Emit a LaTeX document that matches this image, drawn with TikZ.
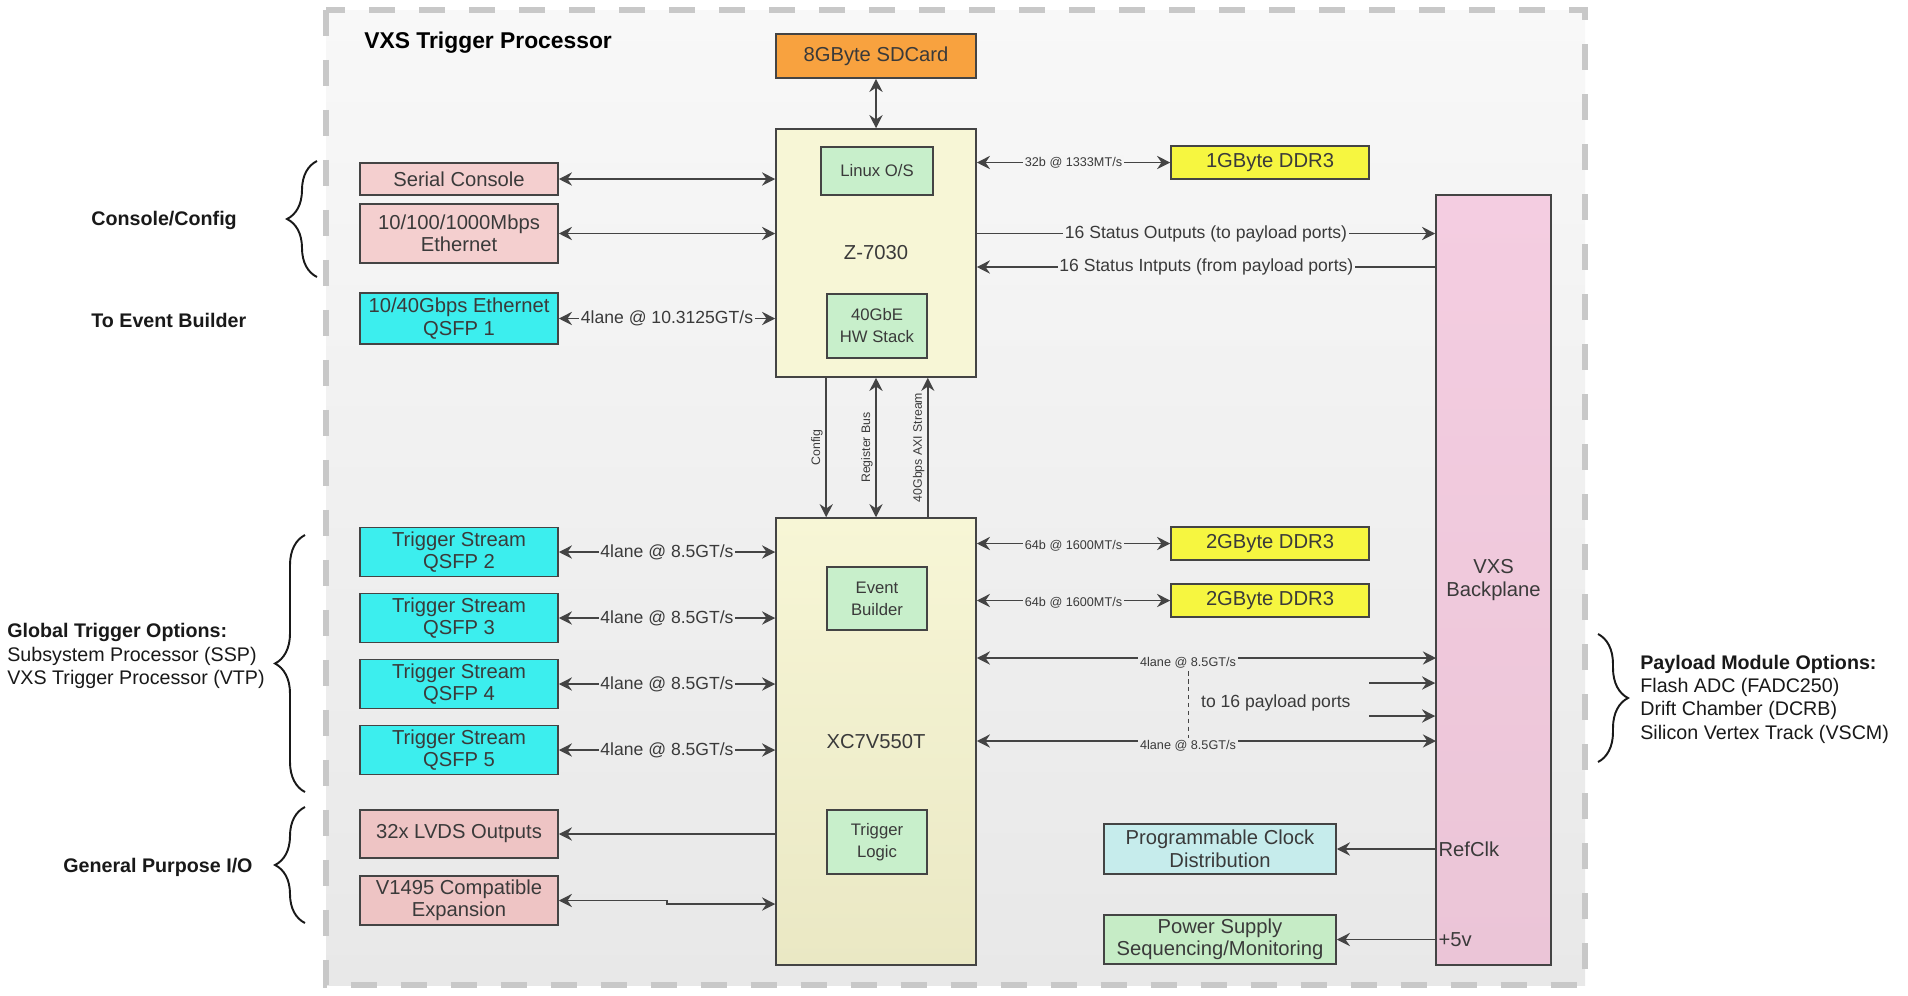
\documentclass[tikz,border=0pt]{standalone}
\usepackage{fontspec}
\setmainfont{Liberation Sans}
\usetikzlibrary{arrows.meta,decorations.pathreplacing}

\definecolor{bgtop}{HTML}{F8F8F8}
\definecolor{bgbot}{HTML}{E8E8E8}
\definecolor{frameline}{HTML}{C8C8C8}
\definecolor{edgegray}{HTML}{444444}
\definecolor{txtgray}{HTML}{3A3A3A}
\definecolor{sdorange}{HTML}{F8A23F}
\definecolor{chipyel}{HTML}{F7F6D6}
\definecolor{chipyelB}{HTML}{EAE8C4}
\definecolor{subgreen}{HTML}{C8EFCB}
\definecolor{ifpink}{HTML}{F4CFCF}
\definecolor{iopink}{HTML}{EEC4C4}
\definecolor{qsfpcyan}{HTML}{3CEEEE}
\definecolor{ddryel}{HTML}{F6F640}
\definecolor{bppink}{HTML}{F4CDE1}
\definecolor{bppinkB}{HTML}{EBC5D7}
\definecolor{clkcyan}{HTML}{C6ECEC}
\definecolor{pwrgreen}{HTML}{C6ECC6}

\begin{document}
\begin{tikzpicture}[x=0.02cm, y=-0.02cm, >={Stealth[length=7.5pt,width=7.5pt,inset=2.5pt]}]
        \tikzset{blk/.style={draw=edgegray, line width=0.9pt, text=txtgray, align=center, inner sep=1pt, font=\fontsize{11.5}{12.8}\selectfont}}
        \tikzset{sub/.style={blk, fill=subgreen, minimum width=2cm, font=\fontsize{9.5}{12.5}\selectfont}}
        \tikzset{ifbox/.style={blk, minimum width=3.96cm}}
        \tikzset{link/.style={draw=edgegray, line width=0.9pt}}
        \tikzset{lbl/.style={text=txtgray, inner sep=1pt, fill=bgbot!#1!bgtop, font=\fontsize{10}{11}\selectfont}}
        \tikzset{smalllbl/.style={lbl=#1, font=\fontsize{7.2}{7.5}\selectfont}}
        \tikzset{rotlbl/.style={text=txtgray, inner sep=1.5pt, rotate=90, anchor=south, font=\fontsize{7}{7.5}\selectfont}}
        \tikzset{sidetext/.style={text=black!90, inner sep=0pt, align=left, font=\fontsize{11.2}{13.3}\selectfont}}
        \tikzset{brc/.style={draw=black!90, line width=1.1pt, decorate, decoration={brace, amplitude=0.6cm}}}
        \fill[white] (0,0) rectangle (1908,995);
        % board outline
        \fill[top color=bgtop, bottom color=bgbot] (326,10) rectangle (1585,985);
        \draw[frameline, line width=3.4pt, dash pattern=on 0.52cm off 0.48cm] (326,10) rectangle (1585,985);
        \node[anchor=west, inner sep=0pt, font=\fontsize{13}{15}\selectfont\bfseries] (title) at (364,43) {VXS Trigger Processor};
        % zynq side
        \node[blk, fill=sdorange, minimum width=4cm, minimum height=0.88cm] (sdcard) at (876,56) {8GByte SDCard};
        \node[blk, fill=chipyel, minimum width=4cm, minimum height=4.96cm] (zynq) at (876,253) {Z-7030};
        \node[sub, minimum width=2.24cm, minimum height=0.96cm] (linux) at (877,171) {Linux O/S};
        \node[sub, minimum height=1.28cm] (hwstack) at (877,326) {40GbE\\HW Stack};
        \node[ifbox, fill=ifpink, minimum height=0.64cm] (serial) at (459,179) {Serial Console};
        \node[ifbox, fill=ifpink, minimum height=1.18cm] (ether) at (459,233.5) {10/100/1000Mbps\\Ethernet};
        \node[ifbox, fill=qsfpcyan, minimum height=1.02cm] (qsfp1) at (459,318.5) {10/40Gbps Ethernet\\QSFP 1};
        \node[ifbox, fill=ddryel, minimum height=0.66cm] (ddrA) at (1270,162.5) {1GByte DDR3};
        \node[blk, top color=bppink, bottom color=bppinkB, minimum width=2.3cm, minimum height=15.4cm] (vxs) at (1493.5,580) {VXS\\Backplane};
        % virtex side
        \node[blk, top color=chipyel, bottom color=chipyelB, minimum width=4cm, minimum height=8.94cm] (virtex) at (876,741.5) {XC7V550T};
        \node[sub, minimum height=1.26cm] (evb) at (877,598.5) {Event\\Builder};
        \node[sub, minimum height=1.28cm] (trig) at (877,842) {Trigger\\Logic};
        \node[ifbox, fill=qsfpcyan, minimum height=0.98cm] (qsfp2) at (459,552) {Trigger Stream\\QSFP 2};
        \node[ifbox, fill=qsfpcyan, minimum height=0.98cm] (qsfp3) at (459,618) {Trigger Stream\\QSFP 3};
        \node[ifbox, fill=qsfpcyan, minimum height=0.98cm] (qsfp4) at (459,684) {Trigger Stream\\QSFP 4};
        \node[ifbox, fill=qsfpcyan, minimum height=0.98cm] (qsfp5) at (459,750) {Trigger Stream\\QSFP 5};
        \node[ifbox, fill=iopink, minimum height=0.96cm] (lvds) at (459,834) {32x LVDS Outputs};
        \node[ifbox, fill=iopink, minimum height=0.98cm] (v1495) at (459,900.5) {V1495 Compatible\\Expansion};
        \node[ifbox, fill=ddryel, minimum height=0.66cm] (ddrB) at (1270,543.5) {2GByte DDR3};
        \node[ifbox, fill=ddryel, minimum height=0.66cm] (ddrC) at (1270,600.5) {2GByte DDR3};
        \node[blk, fill=clkcyan, minimum width=4.64cm, minimum height=1cm] (clk) at (1220,849) {Programmable Clock\\Distribution};
        \node[blk, fill=pwrgreen, minimum width=4.64cm, minimum height=0.98cm] (pwr) at (1220,939.5) {Power Supply\\Sequencing/Monitoring};
        \node[lbl=71, fill=none, anchor=west] (ports) at (1199,703) {to 16 payload ports};
        \coordinate (statin) at (1436,267);
        \coordinate (laneA) at (1436,658);
        \coordinate (laneB) at (1436,741);
        \coordinate (stubA) at (1369,683);
        \coordinate (stubB) at (1369,716);
        \coordinate (jog) at (667,904);
        % connections
        \path (sdcard) edge [<->, link] (zynq);
        \path (serial.east) edge [<->, link] (zynq.west |- serial.east);
        \path (ether.east) edge [<->, link] (zynq.west |- ether.east);
        \path (qsfp1.east) edge [<->, link] node[lbl=32] {4lane @ 10.3125GT/s} (zynq.west |- qsfp1.east);
        \path (zynq.east |- ddrA.west) edge [<->, link] node[smalllbl=16] {32b @ 1333MT/s} (ddrA.west);
        \path (zynq.east |- ether.east) edge [->, link] node[lbl=23] {16 Status Outputs (to payload ports)} (vxs.west |- ether.east);
        \path (statin) edge [->, link] node[lbl=26] {16 Status Intputs (from payload ports)} (zynq.east |- statin);
        \path (zynq.south -| hwstack.west) edge [->, link] node[rotlbl] {Config} (virtex.north -| hwstack.west);
        \path (zynq.south) edge [<->, link] node[rotlbl] {Register Bus} (virtex.north);
        \path (virtex.north -| hwstack.east) edge [->, link] node[rotlbl] {40Gbps AXI Stream} (zynq.south -| hwstack.east);
        \path (qsfp2.east) edge [<->, link] node[lbl=56] {4lane @ 8.5GT/s} (virtex.west |- qsfp2.east);
        \path (qsfp3.east) edge [<->, link] node[lbl=62] {4lane @ 8.5GT/s} (virtex.west |- qsfp3.east);
        \path (qsfp4.east) edge [<->, link] node[lbl=69] {4lane @ 8.5GT/s} (virtex.west |- qsfp4.east);
        \path (qsfp5.east) edge [<->, link] node[lbl=76] {4lane @ 8.5GT/s} (virtex.west |- qsfp5.east);
        \path (virtex.east |- ddrB.west) edge [<->, link] node[smalllbl=55, yshift=-1.5pt] {64b @ 1600MT/s} (ddrB.west);
        \path (virtex.east |- ddrC.west) edge [<->, link] node[smalllbl=61, yshift=-1.5pt] {64b @ 1600MT/s} (ddrC.west);
        \path (virtex.east |- laneA) edge [<->, link] node[smalllbl=66, pos=0.46, yshift=-3pt] (lblA) {4lane @ 8.5GT/s} (laneA);
        \path (virtex.east |- laneB) edge [<->, link] node[smalllbl=75, pos=0.46, yshift=-3pt] (lblB) {4lane @ 8.5GT/s} (laneB);
        \draw[link, line width=0.6pt, dash pattern=on 2.5pt off 2pt] (lblA.south) -- (lblB.north);
        \path (stubA) edge [->, link] (vxs.west |- stubA);
        \path (stubB) edge [->, link] (vxs.west |- stubB);
        \path (virtex.west |- lvds.east) edge [->, link] (lvds.east);
        \draw[<->, link] (v1495.east) -- (jog |- v1495.east) -- (jog) -- (virtex.west |- jog);
        \path (vxs.west |- clk.east) edge [->, link] node[pos=0, anchor=west, text=txtgray, inner sep=1.5pt, font=\fontsize{11.5}{12.8}\selectfont] {RefClk} (clk.east);
        \path (vxs.west |- pwr.east) edge [->, link] node[pos=0, anchor=west, text=txtgray, inner sep=1.5pt, font=\fontsize{11.5}{12.8}\selectfont] {+5v} (pwr.east);
        % side notes
        \draw[brc] (317,277) -- (317,161);
        \draw[brc] (305,792) -- (305,535);
        \draw[brc] (305,923) -- (305,807);
        \draw[brc] (1598,634) -- (1598,762);
        \node[sidetext, anchor=west, font=\fontsize{11.2}{13.3}\selectfont\bfseries] (cfg) at (91,220) {Console/Config};
        \node[sidetext, anchor=west, font=\fontsize{11.2}{13.3}\selectfont\bfseries] (toevb) at (91,320) {To Event Builder};
        \node[sidetext, anchor=west] (gto) at (7,656) {\textbf{Global Trigger Options:}\\Subsystem Processor (SSP)\\VXS Trigger Processor (VTP)};
        \node[sidetext, anchor=west, font=\fontsize{11.2}{13.3}\selectfont\bfseries] (gpio) at (63,867) {General Purpose I/O};
        \node[sidetext, anchor=west] (pmo) at (1640,699) {\textbf{Payload Module Options:}\\Flash ADC (FADC250)\\Drift Chamber (DCRB)\\Silicon Vertex Track (VSCM)};
\end{tikzpicture}
\end{document}
